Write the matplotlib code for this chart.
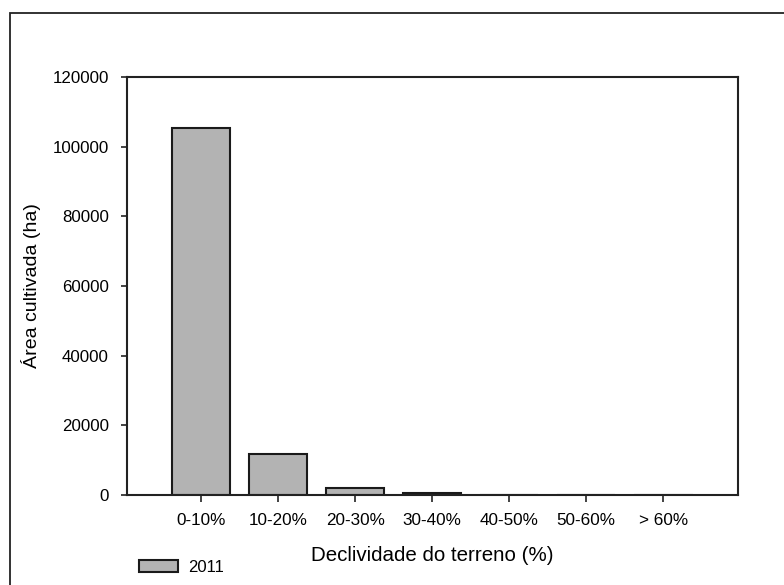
import matplotlib
matplotlib.use("Agg")
import matplotlib.pyplot as plt
from matplotlib.patches import Rectangle, Patch

categorias = ["0-10%", "10-20%", "20-30%", "30-40%", "40-50%", "50-60%", "> 60%"]
area_2011 = [105300, 11800, 2000, 500, 0, 0, 0]
yticks = [0, 20000, 40000, 60000, 80000, 100000, 120000]

plt.rcParams['font.family'] = ['Liberation Sans', 'DejaVu Sans']

fig = plt.figure(figsize=(7.84, 5.85), dpi=100)
ax = fig.add_axes([127/784, 1-495/585, (738-127)/784, (495-77)/585])

x = list(range(len(categorias)))
ax.bar(x, area_2011, width=0.76, color='#b3b3b3', edgecolor='#1a1a1a', linewidth=1.5)

ax.set_xlim(-0.96, 6.97)
ax.set_ylim(0, 120000)
ax.set_xticks(x)
ax.set_xticklabels(categorias)
ax.set_yticks(yticks)
ax.set_yticklabels([str(v) for v in yticks])
ax.tick_params(axis='x', length=5, width=1.2, pad=8, labelsize=12.3, color='#222222')
ax.tick_params(axis='y', length=4, width=1.2, pad=9, labelsize=12.2, color='#222222')
for s in ax.spines.values():
    s.set_linewidth(1.5)
    s.set_color('#222222')

ax.set_xlabel("Declividade do terreno (%)", fontsize=14.8, labelpad=13)
ax.set_ylabel("Área cultivada (ha)", fontsize=14, labelpad=8)

# legend under the plot, left side
handle = Patch(facecolor='#b3b3b3', edgecolor='#1a1a1a', linewidth=1.5, label='2011')
fig.legend(handles=[handle], loc='center left', bbox_to_anchor=(124/784, 1-567/585),
           frameon=False, fontsize=12, handlelength=2.35, handleheight=0.7, handletextpad=0.6)

# outer border of the figure
fig.patches.append(Rectangle((10/784, -0.1), 1.2, 1-13/585+0.1, transform=fig.transFigure,
                             fill=False, edgecolor='#222222', linewidth=1.3))

fig.savefig("out.png", dpi=100)
